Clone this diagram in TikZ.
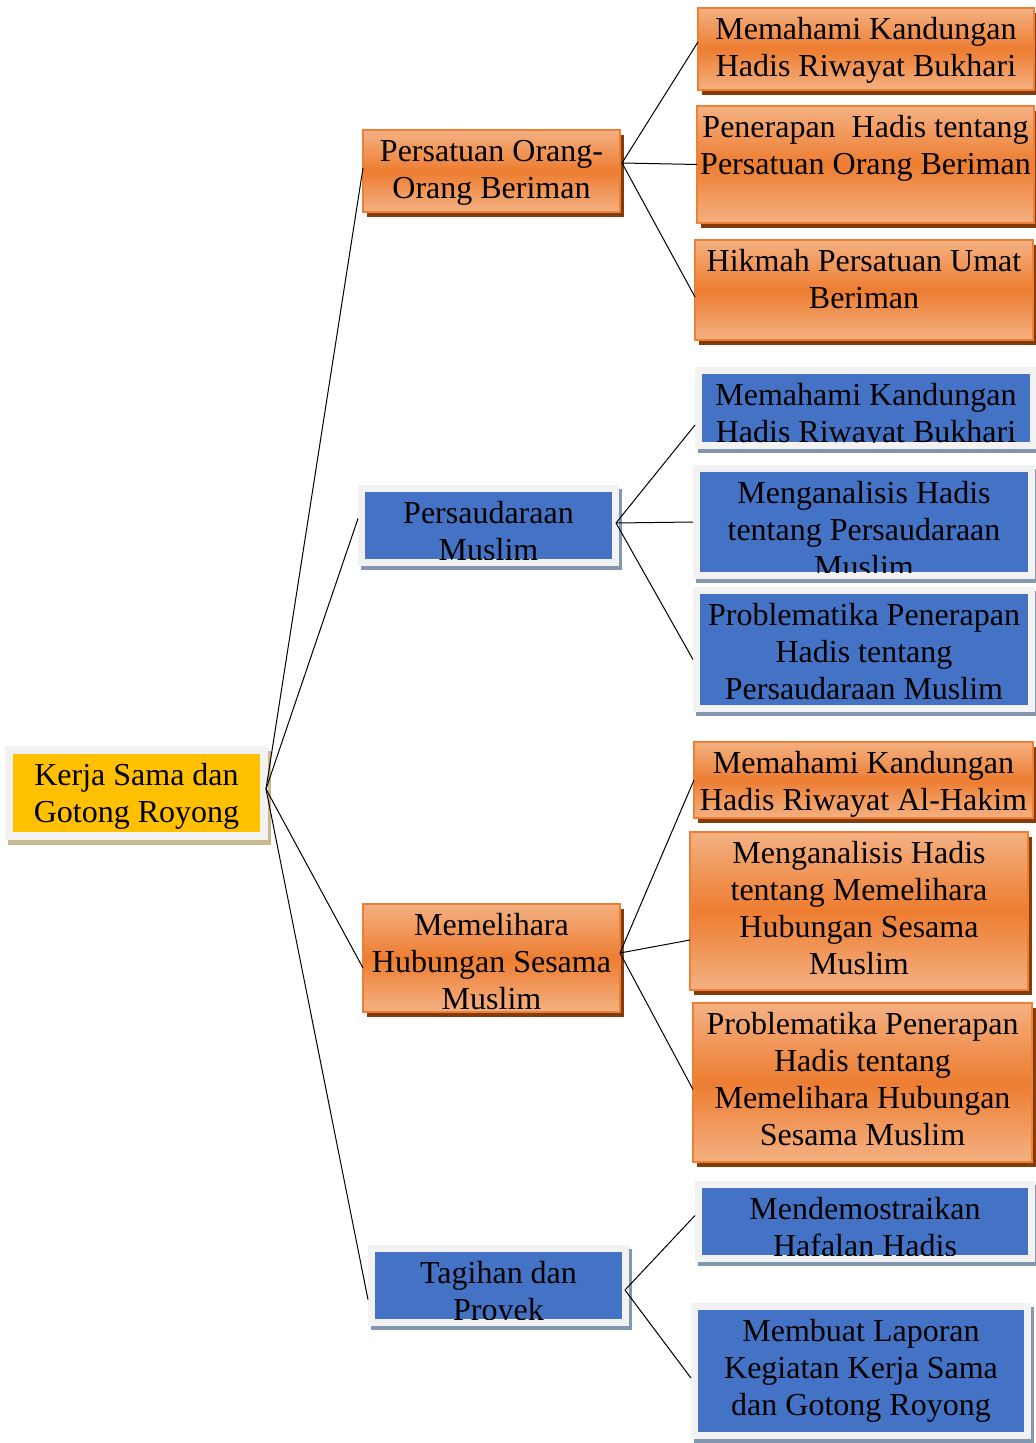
\documentclass[tikz,border=0pt]{standalone}
\usepackage{fontspec}
\setmainfont{Liberation Serif}
\usetikzlibrary{shadows}

\definecolor{peach}{HTML}{F4B183}
\definecolor{orangemid}{HTML}{ED7D31}
\definecolor{orangeline}{HTML}{EE7F33}
\definecolor{brownshadow}{HTML}{843C0C}
\definecolor{bluefill}{HTML}{4472C4}
\definecolor{framegray}{HTML}{F2F2F2}
\definecolor{blueshadow}{HTML}{8497B0}
\definecolor{gold}{HTML}{FFC000}
\definecolor{tanshadow}{HTML}{C9B98E}

\tikzset{
  obox/.style={draw=orangeline, line width=0.8pt, top color=peach, bottom color=peach,
    middle color=orangemid, inner sep=0pt, outer sep=0pt,
    general shadow={fill=brownshadow, shadow xshift=2pt, shadow yshift=-2.5pt}},
  bframe/.style={fill=framegray, inner sep=0pt, outer sep=0pt,
    general shadow={fill=blueshadow, shadow xshift=1.5pt, shadow yshift=-2pt}},
  yframe/.style={fill=framegray, inner sep=0pt, outer sep=0pt,
    general shadow={fill=tanshadow, shadow xshift=1.5pt, shadow yshift=-2.5pt}},
  boxtext/.style={font=\fontsize{16}{18.5}\selectfont, align=center, inner sep=0pt, anchor=north},
  link/.style={draw=black, line width=0.5pt}
}

% orange box: name, x1, y1, x2, y2, text
\newcommand\orangebox[6]{%
  \node[obox, anchor=north west, minimum width={(#4-#2)*0.5pt}, minimum height={(#5-#3)*0.5pt}] (#1) at (#2,#3) {};
  \node[boxtext] (#1-t) at ({(#2+#4)/2},{#3+5}) {\strut #6};
}
% blue box: name, inner x1, y1, x2, y2, text (text clipped to the blue area)
\newcommand\bluebox[6]{%
  \node[bframe, anchor=north west, minimum width={(#4-#2+14)*0.5pt}, minimum height={(#5-#3+14)*0.5pt}] (#1) at ({#2-7},{#3-7}) {};
  \fill[bluefill] (#2,#3) rectangle (#4,#5);
  \begin{scope}
    \clip (#2,#3) rectangle (#4,#5);
    \node[boxtext] (#1-t) at ({(#2+#4)/2},{#3+5}) {\strut #6};
  \end{scope}
}

\begin{document}
\begin{tikzpicture}[x=0.5pt, y=-0.5pt]
\useasboundingbox (0,0) rectangle (1036,1443);
\fill[white] (0,0) rectangle (1036,1443);

% root
\node[yframe, anchor=north west, minimum width={(260-13+16)*0.5pt}, minimum height={(832-754+16)*0.5pt}] (root) at (5,746) {};
\fill[gold] (13,754) rectangle (260,832);
\node[boxtext] (root-t) at (136.5,759) {\strut Kerja Sama dan\\Gotong Royong};

% first level
\orangebox{persatuan}{363}{130}{620}{212}{Persatuan Orang-\\Orang Beriman}
\bluebox{persaudaraan}{365}{492}{612}{559}{Persaudaraan\\Muslim}
\orangebox{memelihara}{363}{904}{620}{1012}{Memelihara\\Hubungan Sesama\\Muslim}
\bluebox{tagihan}{375}{1252}{622}{1319}{Tagihan dan\\Proyek}

% second level: persatuan
\orangebox{pa}{698}{8}{1034}{90}{Memahami Kandungan\\Hadis Riwayat Bukhari}
\orangebox{pb}{697}{106}{1034}{223}{Penerapan\ \ Hadis tentang\\Persatuan Orang Beriman}
\orangebox{pc}{695}{240}{1033}{340}{Hikmah Persatuan Umat\\Beriman}

% second level: persaudaraan
\bluebox{sa}{702}{374}{1030}{442}{Memahami Kandungan\\Hadis Riwayat Bukhari}
\bluebox{sb}{700}{472}{1028}{572}{Menganalisis Hadis\\tentang Persaudaraan\\Muslim}
\bluebox{sc}{700}{594}{1028}{705}{Problematika Penerapan\\Hadis tentang\\Persaudaraan Muslim}

% second level: memelihara
\orangebox{ma}{694}{742}{1033}{818}{Memahami Kandungan\\Hadis Riwayat Al-Hakim}
\orangebox{mb}{690}{832}{1028}{990}{Menganalisis Hadis\\tentang Memelihara\\Hubungan Sesama\\Muslim}
\orangebox{mc}{693}{1003}{1032}{1162}{Problematika Penerapan\\Hadis tentang\\Memelihara Hubungan\\Sesama Muslim}

% second level: tagihan
\bluebox{ta}{702}{1188}{1028}{1255}{Mendemostraikan\\Hafalan Hadis}
\bluebox{tb}{698}{1310}{1024}{1432}{Membuat Laporan\\Kegiatan Kerja Sama\\dan Gotong Royong}

% fan points
\coordinate (f0) at (266,789);
\coordinate (f1) at (622,163);
\coordinate (f2) at (616,523);
\coordinate (f3) at (620,953);
\coordinate (f4) at (625,1290);

% connectors
\draw[link] (f0) -- ([yshift=1.5pt]persatuan.west);
\draw[link] (f0) -- ([yshift=3.5pt]persaudaraan.west);
\draw[link] (f0) -- ([yshift=-5pt]memelihara.west);
\draw[link] (f0) -- ([yshift=-7pt]tagihan.west);

\draw[link] (f1) -- ([yshift=3.5pt]pa.west);
\draw[link] (f1) -- (pb.west);
\draw[link] (f1) -- ([yshift=-3.5pt]pc.west);

\draw[link] (f2) -- ([yshift=-8.5pt]sa.west);
\draw[link] (f2) -- (sb.west);
\draw[link] (f2) -- ([yshift=-5pt]sc.west);

\draw[link] (f3) -- (ma.west);
\draw[link] (f3) -- ([yshift=-14.5pt]mb.west);
\draw[link] (f3) -- ([yshift=-3.5pt]mc.west);

\draw[link] (f4) -- ([yshift=3pt]ta.west);
\draw[link] (f4) -- ([yshift=-3.5pt]tb.west);
\end{tikzpicture}
\end{document}
